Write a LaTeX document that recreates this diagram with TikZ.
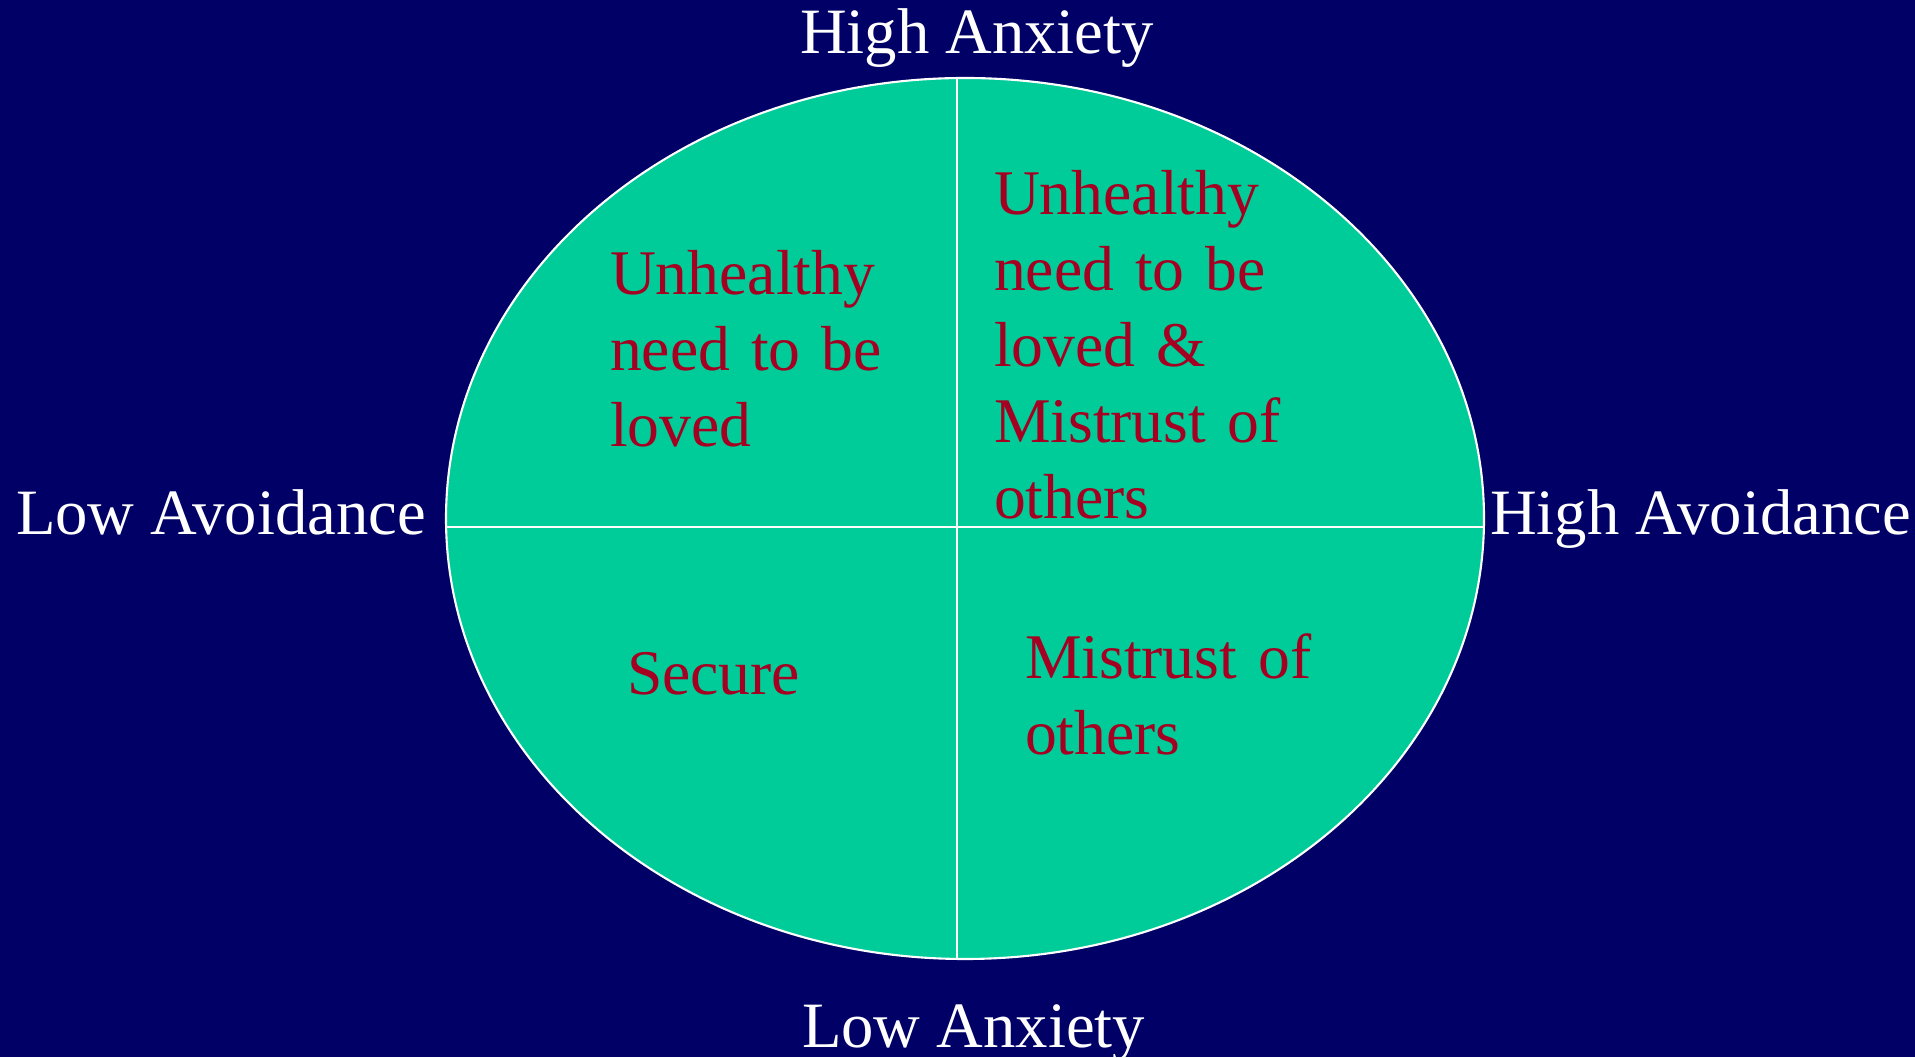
\documentclass[tikz,border=0pt]{standalone}
\usepackage{fontspec}
\setmainfont{Liberation Serif}
\usepackage{tikz}
\usetikzlibrary{shapes.geometric}
\definecolor{slideNavy}{RGB}{0,0,102}
\definecolor{slideGreen}{RGB}{0,204,153}
\definecolor{slideRed}{RGB}{165,0,33}

\begin{document}
\begin{tikzpicture}[x=1cm, y=1cm]%
  \tikzset{axis label/.style={text=white, anchor=base west, font=\fontsize{18.4}{21.6}\selectfont},
    quad text/.style={text=slideRed, anchor=base west, align=left, text width=4.6cm},
    axis line/.style={draw=white, line width=0.6pt}}
  \tikzstyle{every node}=[inner sep=0pt, outer sep=0pt, font=\fontsize{18.1}{21.6}\selectfont]

  \fill[slideNavy] (0,0) rectangle (19.15,10.57);
  \useasboundingbox (0,0) rectangle (19.15,10.57);

  \node[ellipse, draw=white, fill=slideGreen, line width=0.6pt, minimum width=10.38cm, minimum height=8.81cm] at (9.65,5.385) (oval) {};

  \coordinate (axisN) at (9.57,9.79);
  \coordinate (axisS) at (9.57,0.98);
  \coordinate (axisW) at (4.46,5.30);
  \coordinate (axisE) at (14.84,5.30);
  \path[axis line] (axisN) -- (axisS);
  \path[axis line] (axisW) -- (axisE);

  \node[axis label] at (8.00,10.03) (hiAnx) {High Anxiety};
  \node[axis label] at (8.02,0.10) (loAnx) {Low Anxiety};
  \node[axis label] at (0.16,5.22) (loAvd) {Low Avoidance};
  \node[axis label] at (14.90,5.22) (hiAvd) {High Avoidance};

  \node[quad text] at (6.10,7.62) (needLove) {Unhealthy\\need to be\\loved};
  \node[quad text] at (9.94,8.42) (fearful) {Unhealthy\\need to be\\loved \&\\Mistrust of\\others};
  \node[quad text] at (6.27,3.62) (secure) {Secure};
  \node[quad text] at (10.25,3.78) (mistrust) {Mistrust of\\others};
\end{tikzpicture}
\end{document}
